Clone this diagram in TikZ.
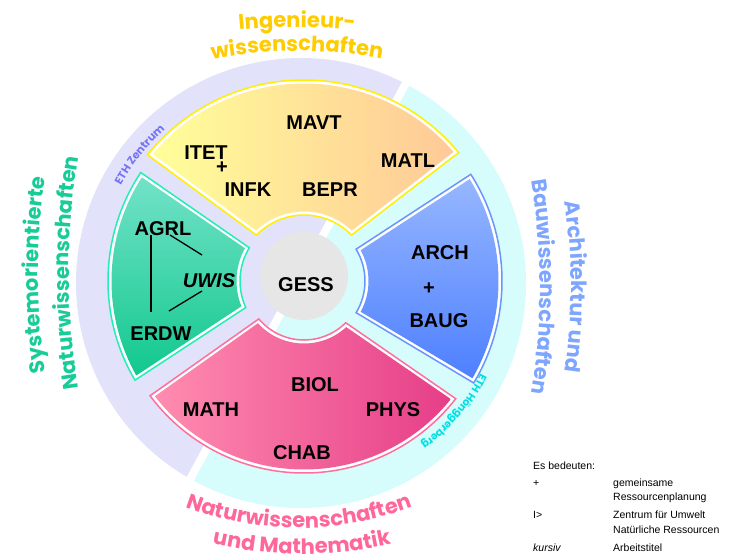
\documentclass[tikz,border=0pt]{standalone}
\usepackage{fontspec}
\setmainfont{Liberation Sans}
\newfontfamily\lblfont{Poppins}
\usetikzlibrary{decorations.text}
\definecolor{lav}{HTML}{E2E2FA}
\definecolor{cyanring}{HTML}{D6FCFC}
\definecolor{yelA}{HTML}{FFFF99}
\definecolor{yelB}{HTML}{FFC998}
\definecolor{yelO}{HTML}{FFF000}
\definecolor{grnA}{HTML}{72E2C8}
\definecolor{grnB}{HTML}{12C88E}
\definecolor{grnO}{HTML}{22EEB6}
\definecolor{bluA}{HTML}{96B6FF}
\definecolor{bluB}{HTML}{4E80FF}
\definecolor{bluO}{HTML}{6C94FF}
\definecolor{pnkA}{HTML}{FF8CB0}
\definecolor{pnkB}{HTML}{E63E88}
\definecolor{pnkO}{HTML}{FF6E9C}
\definecolor{gess}{HTML}{E6E6E6}
\definecolor{tYel}{HTML}{FFCC00}
\definecolor{tGrn}{HTML}{18CC98}
\definecolor{tBlu}{HTML}{7FA6FF}
\definecolor{tPnk}{HTML}{FF6699}
\definecolor{tZen}{HTML}{7474F4}
\definecolor{tHoe}{HTML}{00E0E4}
\newcommand\lblbig{\lblfont\bfseries\fontsize{21}{24}\selectfont}
\newcommand\lblsmall{\lblfont\bfseries\fontsize{11}{12}\selectfont}
\newcommand\lblhoe{\lblfont\bfseries\fontsize{10.5}{12}\selectfont}
\tikzset{
  annsec/.style n args={6}{insert path={(#1:#3) arc[start angle=#1,end angle=#2,radius=#3] -- (#4:#6) arc[start angle=#4,end angle=#5,radius=#6] -- cycle}},
  seclab/.style={font=\fontsize{20}{24}\selectfont\bfseries, inner sep=0pt},
  legtxt/.style={font=\fontsize{10.5}{12}\selectfont, anchor=base west, inner sep=0pt},
  arctext/.style={decorate, decoration={text along path, text align=center, text={#1}}},
  glink/.style={line width=1.3pt},
}
\begin{document}
\begin{tikzpicture}[x=1pt,y=1pt]
\fill[white] (0,0) rectangle (740,-560);
\path[use as bounding box] (0,0) rectangle (740,-560);
% ring
\begin{scope}[shift={(301,-283)}]
  \fill[lav] (0,0) -- (61.4:225) arc[start angle=61.4,end angle=241.4,radius=225] -- cycle;
  \fill[cyanring] (0,0) -- (241.4:225) arc[start angle=241.4,end angle=421.4,radius=225] -- cycle;
\end{scope}
\coordinate (splitA) at ([shift={(61.4:240)}]297,-283);
\coordinate (splitB) at ([shift={(241.4:240)}]297,-283);
\draw[white, line width=8pt] (splitA) -- (splitB);
% sectors
\begin{scope}[shift={(304,-281)}]
  \draw[yelO, line width=1.5pt, fill=white, annsec={39.7}{141.1}{201}{136}{44}{66}];
  \shade[left color=yelA, right color=yelB, annsec={40.8}{140}{197.5}{133.5}{46.5}{69.5}];
  \draw[grnO, line width=1.5pt, fill=white, annsec={146.4}{210.4}{196}{204.5}{148.7}{64}];
  \shade[top color=grnA, bottom color=grnB, annsec={147.4}{209.4}{192.5}{202}{151}{67.5}];
  \draw[pnkO, line width=1.5pt, fill=white, annsec={216.7}{322.2}{192}{315}{220}{59}];
  \shade[left color=pnkA, right color=pnkB, annsec={217.7}{321.2}{188.5}{312.5}{222.5}{62.5}];
  \draw[bluO, line width=1.5pt, fill=white, annsec={-31}{32.6}{198}{31.4}{-31.3}{61}];
  \shade[top color=bluA, bottom color=bluB, annsec={-30}{31.6}{194.5}{28.5}{-28.5}{64.5}];
\end{scope}
% centre
\node[circle, fill=gess, minimum size=88pt, inner sep=0pt] (gessc) at (304,-276) {};
\node[seclab] (gess) at (306,-285) {GESS};
% yellow labels
\node[seclab] (mavt) at (314,-123) {MAVT};
\node[seclab] (itet) at (206,-153) {ITET};
\node[seclab] (plusA) at (222,-168) {+};
\node[seclab] (matl) at (408,-161) {MATL};
\node[seclab] (infk) at (248,-190) {INFK};
\node[seclab] (bepr) at (330,-190) {BEPR};
% green labels
\node[seclab] (agrl) at (163,-229) {AGRL};
\node[seclab] (uwis) at (209,-281) {\itshape UWIS};
\node[seclab] (erdw) at (161,-334) {ERDW};
\coordinate (gA1) at (151,-235);
\coordinate (gA2) at (151,-312);
\coordinate (gB1) at (170,-235);
\coordinate (gB2) at (202,-255);
\coordinate (gC1) at (169,-311);
\coordinate (gC2) at (202,-291);
\draw[glink] (gA1) -- (gA2);
\draw[glink] (gB1) -- (gB2);
\draw[glink] (gC1) -- (gC2);
% blue labels
\node[seclab] (arch) at (440,-253) {ARCH};
\node[seclab] (plusB) at (429,-289) {+};
\node[seclab] (baug) at (439,-321) {BAUG};
% pink labels
\node[seclab] (biol) at (315,-385) {BIOL};
\node[seclab] (math) at (211,-410) {MATH};
\node[seclab] (phys) at (393,-410) {PHYS};
\node[seclab] (chab) at (302,-453) {CHAB};
% ring labels
\path[arctext={|\lblsmall\color{tZen}|ETH Zentrum}] ([shift={(165:205)}]301,-283) arc[start angle=165,end angle=118,radius=205];
\path[arctext={|\lblhoe\color{tHoe}|ETH Hönggerberg}] ([shift={(-10:201)}]301,-283) arc[start angle=-10,end angle=-70,radius=201];
% faculty labels
\path[arctext={|\lblbig\color{tYel}|Ingenieur-}] ([shift={(100:600)}]297,-627) arc[start angle=100,end angle=80,radius=600];
\path[arctext={|\lblbig\color{tYel}|wissenschaften}] ([shift={(105:450)}]297,-501) arc[start angle=105,end angle=75,radius=450];
\path[arctext={|\lblbig\color{tGrn}|Systemorientierte}] ([shift={(192:600)}]638,-275) arc[start angle=192,end angle=168,radius=600];
\path[arctext={|\lblbig\color{tGrn}|Naturwissenschaften}] ([shift={(192:700)}]769,-273) arc[start angle=192,end angle=168,radius=700];
\path[arctext={|\lblbig\color{tBlu}|Architektur und}] ([shift={(12:600)}]-29,-287) arc[start angle=12,end angle=-12,radius=600];
\path[arctext={|\lblbig\color{tBlu}|Bauwissenschaften}] ([shift={(12:650)}]-110,-287) arc[start angle=12,end angle=-12,radius=650];
\path[arctext={|\lblbig\color{tPnk}|Naturwissenschaften}] ([shift={(245:320)}]299,-208) arc[start angle=245,end angle=295,radius=320];
\path[arctext={|\lblbig\color{tPnk}|und Mathematik}] ([shift={(250:400)}]302,-154) arc[start angle=250,end angle=290,radius=400];
% legend
\node[legtxt] (leg0) at (533,-469) {Es bedeuten:};
\node[legtxt] (leg1a) at (533,-486) {+};
\node[legtxt] (leg1b) at (613,-486) {gemeinsame};
\node[legtxt] (leg1c) at (613,-500) {Ressourcenplanung};
\node[legtxt] (leg2a) at (533,-518) {I>};
\node[legtxt] (leg2b) at (613,-518) {Zentrum für Umwelt};
\node[legtxt] (leg2c) at (613,-533) {Natürliche Ressourcen};
\node[legtxt] (leg3a) at (533,-551) {\itshape kursiv};
\node[legtxt] (leg3b) at (613,-551) {Arbeitstitel};
\end{tikzpicture}
\end{document}
